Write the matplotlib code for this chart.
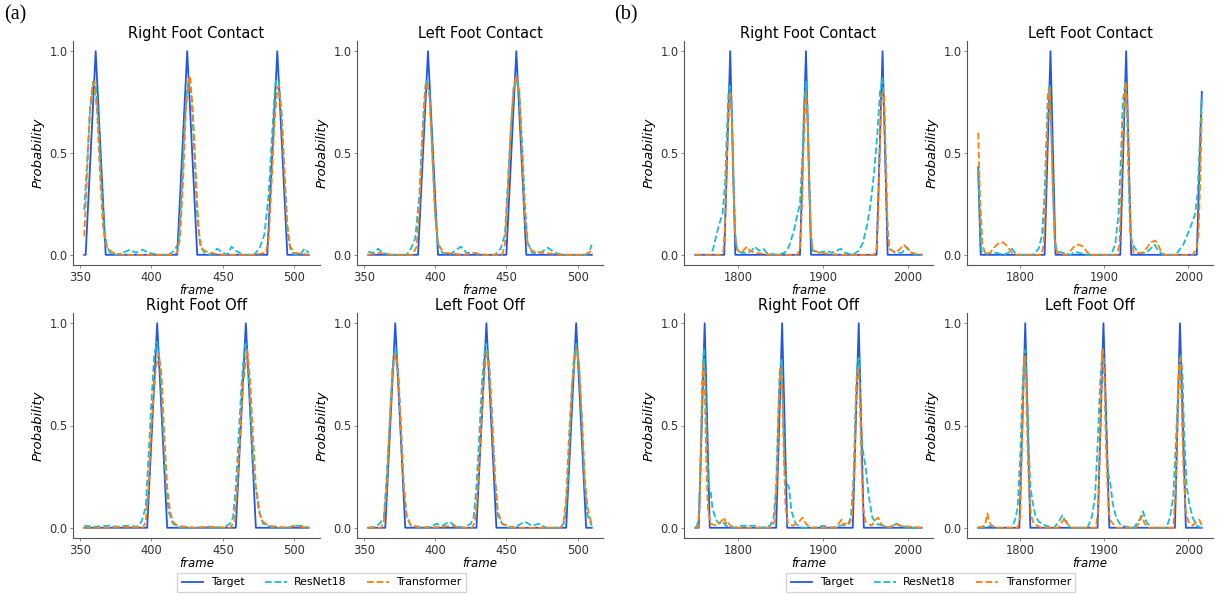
import matplotlib
matplotlib.use("Agg")
import matplotlib.pyplot as plt

# ---- data: (frame, probability) points for each detector and event ----
SERIES_NAMES = ["Target", "ResNet18", "Transformer"]
EVENT_TITLES = ["Right Foot Contact", "Left Foot Contact", "Right Foot Off", "Left Foot Off"]

# sequence (a), frames 353-510
A_RFC_TARGET = [(353, 0), (354, 0), (361, 1), (368, 0), (418, 0), (425, 1), (432, 0),
                (481, 0), (488, 1), (495, 0), (510, 0)]
A_RFC_RESNET = [(353, 0.22), (355, 0.45), (357, 0.7), (359, 0.83), (360, 0.85), (361, 0.84),
                (363, 0.65), (365, 0.35), (367, 0.12), (369, 0.04), (371, 0.01), (375, 0.0),
                (380, 0.01), (385, 0.025), (389, 0.01), (394, 0.025), (398, 0.01), (405, 0.0),
                (412, 0.0), (416, 0.02), (419, 0.06), (421, 0.3), (423, 0.62), (425, 0.82),
                (426, 0.85), (428, 0.78), (430, 0.5), (432, 0.2), (434, 0.05), (437, 0.01),
                (441, 0.0), (446, 0.03), (450, 0.01), (453, 0.0), (456, 0.04), (459, 0.02),
                (464, 0.0), (472, 0.0), (476, 0.04), (479, 0.1), (482, 0.3), (484, 0.55),
                (486, 0.78), (487, 0.86), (489, 0.85), (491, 0.7), (493, 0.4), (495, 0.12),
                (497, 0.03), (500, 0.0), (504, 0.0), (507, 0.03), (510, 0.01)]
A_RFC_TRANSFORMER = [(353, 0.09), (355, 0.4), (357, 0.72), (359, 0.85), (360, 0.84), (362, 0.7),
                     (364, 0.4), (366, 0.15), (368, 0.05), (370, 0.03), (373, 0.01), (380, 0.0),
                     (415, 0.0), (418, 0.01), (420, 0.08), (422, 0.35), (424, 0.7), (426, 0.86),
                     (427, 0.88), (429, 0.7), (431, 0.4), (433, 0.12), (435, 0.03), (440, 0.01),
                     (450, 0.0), (470, 0.0), (480, 0.01), (482, 0.08), (484, 0.35), (486, 0.65),
                     (488, 0.82), (489, 0.83), (491, 0.68), (493, 0.4), (495, 0.15), (497, 0.04),
                     (500, 0.01), (510, 0.0)]

A_LFC_TARGET = [(353, 0), (388, 0), (395, 1), (402, 0), (450, 0), (457, 1), (464, 0), (510, 0)]
A_LFC_RESNET = [(353, 0.015), (357, 0.01), (360, 0.03), (363, 0.01), (368, 0.0), (380, 0.0),
                (383, 0.03), (386, 0.08), (389, 0.3), (391, 0.6), (393, 0.82), (394, 0.86),
                (396, 0.8), (398, 0.5), (400, 0.2), (402, 0.05), (405, 0.01), (410, 0.0),
                (414, 0.02), (418, 0.04), (422, 0.01), (427, 0.01), (432, 0.0), (442, 0.0),
                (446, 0.03), (449, 0.1), (451, 0.35), (453, 0.6), (455, 0.8), (457, 0.86),
                (459, 0.82), (461, 0.55), (463, 0.25), (465, 0.06), (468, 0.01), (474, 0.01),
                (479, 0.035), (484, 0.01), (490, 0.0), (506, 0.0), (508, 0.01), (510, 0.05)]
A_LFC_TRANSFORMER = [(353, 0.0), (360, 0.01), (370, 0.0), (384, 0.0), (387, 0.04), (389, 0.25),
                     (391, 0.55), (393, 0.8), (394, 0.85), (396, 0.78), (398, 0.5), (400, 0.2),
                     (402, 0.06), (404, 0.03), (407, 0.01), (420, 0.0), (427, 0.01), (435, 0.0),
                     (447, 0.0), (449, 0.05), (451, 0.3), (453, 0.6), (455, 0.82), (457, 0.88),
                     (459, 0.8), (461, 0.5), (463, 0.18), (465, 0.05), (468, 0.02), (475, 0.01),
                     (490, 0.0), (505, 0.0), (510, 0.02)]

A_RFO_TARGET = [(353, 0), (397, 0), (404, 1), (411, 0), (459, 0), (466, 1), (473, 0), (510, 0)]
A_RFO_RESNET = [(353, 0.01), (360, 0.005), (370, 0.01), (376, 0.005), (383, 0.01), (390, 0.005),
                (393, 0.03), (396, 0.1), (398, 0.35), (400, 0.62), (402, 0.85), (404, 0.91),
                (406, 0.8), (408, 0.5), (410, 0.22), (412, 0.08), (415, 0.02), (420, 0.0),
                (430, 0.0), (440, 0.005), (450, 0.0), (455, 0.02), (457, 0.05), (459, 0.2),
                (461, 0.45), (463, 0.7), (465, 0.88), (466, 0.9), (468, 0.75), (470, 0.45),
                (472, 0.22), (474, 0.16), (476, 0.06), (478, 0.02), (485, 0.0), (495, 0.0),
                (500, 0.01), (505, 0.01), (510, 0.0)]
A_RFO_TRANSFORMER = [(353, 0.0), (370, 0.0), (380, 0.005), (394, 0.0), (396, 0.03), (398, 0.2),
                     (400, 0.5), (403, 0.78), (405, 0.85), (407, 0.75), (409, 0.45), (411, 0.2),
                     (413, 0.08), (415, 0.03), (418, 0.01), (430, 0.0), (440, 0.005), (455, 0.0),
                     (458, 0.03), (460, 0.2), (462, 0.45), (464, 0.7), (467, 0.87), (469, 0.72),
                     (471, 0.45), (473, 0.2), (475, 0.08), (478, 0.03), (482, 0.01), (495, 0.0),
                     (500, 0.01), (510, 0.0)]

A_LFO_TARGET = [(353, 0), (365, 0), (372, 1), (379, 0), (429, 0), (436, 1), (443, 0),
                (492, 0), (499, 1), (506, 0), (510, 0)]
A_LFO_RESNET = [(353, 0.0), (358, 0.005), (361, 0.02), (364, 0.05), (366, 0.25), (368, 0.5),
                (370, 0.78), (372, 0.88), (374, 0.78), (376, 0.5), (378, 0.2), (380, 0.05),
                (383, 0.01), (390, 0.0), (397, 0.005), (401, 0.02), (405, 0.01), (410, 0.03),
                (414, 0.01), (420, 0.0), (425, 0.02), (427, 0.05), (429, 0.2), (431, 0.45),
                (433, 0.72), (435, 0.88), (436, 0.9), (438, 0.8), (440, 0.55), (442, 0.25),
                (444, 0.06), (447, 0.02), (452, 0.0), (458, 0.01), (463, 0.03), (468, 0.01),
                (473, 0.02), (478, 0.0), (488, 0.0), (491, 0.03), (493, 0.2), (495, 0.5),
                (497, 0.8), (499, 0.9), (501, 0.8), (503, 0.5), (505, 0.2), (507, 0.06),
                (510, 0.01)]
A_LFO_TRANSFORMER = [(353, 0.0), (362, 0.0), (364, 0.03), (366, 0.2), (368, 0.5), (370, 0.75),
                     (372, 0.85), (374, 0.75), (376, 0.48), (378, 0.2), (380, 0.06), (383, 0.01),
                     (395, 0.0), (405, 0.005), (412, 0.01), (418, 0.0), (426, 0.0), (428, 0.03),
                     (430, 0.2), (432, 0.45), (434, 0.7), (436, 0.87), (438, 0.78), (440, 0.5),
                     (442, 0.25), (444, 0.08), (447, 0.02), (455, 0.0), (488, 0.0), (490, 0.02),
                     (492, 0.15), (494, 0.45), (496, 0.7), (499, 0.88), (501, 0.8), (503, 0.55),
                     (505, 0.25), (507, 0.1), (509, 0.04), (510, 0.02)]

# sequence (b), frames 1750-2016
B_RFC_TARGET = [(1750, 0), (1784, 0), (1791, 1), (1797, 0), (1873, 0), (1880, 1), (1886, 0),
                (1963, 0), (1970, 1), (1976, 0), (2016, 0)]
B_RFC_RESNET = [(1750, 0), (1768, 0), (1771, 0.03), (1775, 0.1), (1778, 0.15), (1782, 0.2),
                (1785, 0.35), (1787, 0.6), (1789, 0.8), (1791, 0.83), (1793, 0.7), (1795, 0.35),
                (1797, 0.1), (1799, 0.02), (1805, 0.01), (1812, 0.01), (1816, 0.02), (1820, 0.04),
                (1825, 0.02), (1830, 0.03), (1834, 0.01), (1845, 0.0), (1855, 0.01), (1860, 0.04),
                (1866, 0.12), (1870, 0.2), (1873, 0.25), (1876, 0.5), (1878, 0.75), (1880, 0.85),
                (1882, 0.7), (1884, 0.35), (1886, 0.1), (1888, 0.02), (1895, 0.01), (1905, 0.02),
                (1910, 0.01), (1916, 0.02), (1921, 0.03), (1926, 0.01), (1935, 0.0), (1942, 0.02),
                (1947, 0.06), (1952, 0.15), (1956, 0.25), (1960, 0.4), (1964, 0.6), (1967, 0.8),
                (1970, 0.87), (1972, 0.7), (1974, 0.4), (1976, 0.12), (1978, 0.03), (1985, 0.01),
                (1993, 0.01), (1998, 0.04), (2002, 0.02), (2008, 0.0), (2016, 0.0)]
B_RFC_TRANSFORMER = [(1750, 0), (1780, 0), (1783, 0.02), (1785, 0.15), (1787, 0.45), (1789, 0.7),
                     (1791, 0.8), (1793, 0.65), (1795, 0.3), (1797, 0.08), (1800, 0.02),
                     (1805, 0.01), (1808, 0.03), (1811, 0.04), (1814, 0.02), (1820, 0.01),
                     (1840, 0.0), (1870, 0.0), (1873, 0.04), (1875, 0.2), (1877, 0.5),
                     (1879, 0.72), (1880, 0.8), (1882, 0.65), (1884, 0.3), (1886, 0.08),
                     (1888, 0.02), (1891, 0.02), (1895, 0.01), (1920, 0.0), (1960, 0.0),
                     (1963, 0.03), (1965, 0.2), (1967, 0.55), (1969, 0.78), (1971, 0.8),
                     (1972, 0.78), (1974, 0.45), (1976, 0.12), (1978, 0.03), (1985, 0.01),
                     (1991, 0.03), (1995, 0.05), (1999, 0.03), (2004, 0.01), (2016, 0.0)]

B_LFC_TARGET = [(1750, 0.43), (1753, 0), (1829, 0), (1836, 1), (1842, 0), (1919, 0), (1926, 1),
                (1932, 0), (2010, 0), (2016, 0.8)]
B_LFC_RESNET = [(1750, 0.42), (1752, 0.15), (1754, 0.02), (1758, 0.005), (1765, 0.01), (1772, 0.01),
                (1780, 0.0), (1786, 0.01), (1790, 0.03), (1794, 0.01), (1800, 0.0), (1815, 0.0),
                (1822, 0.03), (1826, 0.1), (1829, 0.3), (1831, 0.55), (1833, 0.8), (1835, 0.83),
                (1837, 0.6), (1839, 0.3), (1841, 0.08), (1843, 0.02), (1850, 0.01), (1860, 0.0),
                (1865, 0.015), (1870, 0.01), (1880, 0.0), (1908, 0.0), (1913, 0.05), (1917, 0.2),
                (1920, 0.5), (1922, 0.75), (1925, 0.85), (1927, 0.7), (1929, 0.35), (1931, 0.1),
                (1934, 0.05), (1940, 0.01), (1950, 0.01), (1955, 0.03), (1960, 0.05), (1964, 0.02),
                (1970, 0.0), (1985, 0.0), (1994, 0.05), (2002, 0.13), (2008, 0.2), (2011, 0.3),
                (2014, 0.6), (2016, 0.78)]
B_LFC_TRANSFORMER = [(1750, 0.6), (1752, 0.3), (1755, 0.05), (1759, 0.0), (1764, 0.01),
                     (1770, 0.04), (1775, 0.06), (1780, 0.06), (1785, 0.04), (1790, 0.01),
                     (1795, 0.0), (1825, 0.0), (1828, 0.05), (1830, 0.3), (1832, 0.6),
                     (1834, 0.8), (1835, 0.82), (1837, 0.6), (1839, 0.3), (1841, 0.08),
                     (1844, 0.01), (1855, 0.0), (1860, 0.02), (1865, 0.045), (1870, 0.05),
                     (1875, 0.04), (1880, 0.01), (1885, 0.0), (1915, 0.0), (1918, 0.05),
                     (1920, 0.3), (1922, 0.6), (1925, 0.82), (1926, 0.85), (1928, 0.65),
                     (1930, 0.3), (1932, 0.08), (1935, 0.01), (1945, 0.01), (1950, 0.03),
                     (1955, 0.06), (1960, 0.07), (1963, 0.06), (1967, 0.02), (1972, 0.0),
                     (2005, 0.0), (2010, 0.03), (2012, 0.1), (2014, 0.35), (2016, 0.7)]

B_RFO_TARGET = [(1750, 0), (1754, 0), (1761, 1), (1767, 0), (1845, 0), (1852, 1), (1858, 0),
                (1935, 0), (1942, 1), (1948, 0), (2016, 0)]
B_RFO_RESNET = [(1750, 0), (1752, 0.01), (1754, 0.05), (1756, 0.3), (1758, 0.7), (1760, 0.88),
                (1762, 0.7), (1764, 0.35), (1766, 0.2), (1768, 0.18), (1770, 0.1), (1774, 0.04),
                (1778, 0.02), (1782, 0.03), (1786, 0.01), (1795, 0.0), (1805, 0.01), (1812, 0.01),
                (1820, 0.01), (1828, 0.0), (1838, 0.01), (1842, 0.05), (1845, 0.2), (1847, 0.5),
                (1849, 0.75), (1851, 0.83), (1853, 0.6), (1855, 0.3), (1857, 0.22), (1860, 0.2),
                (1863, 0.08), (1868, 0.02), (1875, 0.0), (1890, 0.0), (1900, 0.01), (1910, 0.0),
                (1920, 0.01), (1930, 0.02), (1933, 0.06), (1936, 0.25), (1938, 0.55), (1940, 0.78),
                (1942, 0.83), (1944, 0.6), (1946, 0.4), (1950, 0.3), (1954, 0.15), (1958, 0.05),
                (1963, 0.02), (1970, 0.01), (1980, 0.0), (1986, 0.02), (1992, 0.01), (2000, 0.0),
                (2016, 0.0)]
B_RFO_TRANSFORMER = [(1750, 0), (1753, 0.0), (1755, 0.1), (1757, 0.45), (1759, 0.8), (1761, 0.7),
                     (1763, 0.3), (1765, 0.08), (1768, 0.02), (1775, 0.01), (1780, 0.03),
                     (1784, 0.05), (1786, 0.02), (1788, 0.03), (1791, 0.01), (1800, 0.0),
                     (1838, 0.0), (1843, 0.03), (1846, 0.25), (1848, 0.6), (1850, 0.78),
                     (1852, 0.7), (1854, 0.35), (1856, 0.1), (1859, 0.02), (1865, 0.01),
                     (1872, 0.03), (1876, 0.05), (1880, 0.02), (1885, 0.0), (1915, 0.0),
                     (1920, 0.03), (1922, 0.04), (1925, 0.01), (1928, 0.03), (1931, 0.02),
                     (1934, 0.05), (1937, 0.3), (1939, 0.65), (1941, 0.78), (1943, 0.7),
                     (1945, 0.35), (1947, 0.1), (1950, 0.03), (1957, 0.01), (1962, 0.04),
                     (1965, 0.05), (1968, 0.02), (1975, 0.0), (1982, 0.01), (1986, 0.02),
                     (1990, 0.01), (2016, 0.0)]

B_LFO_TARGET = [(1750, 0), (1799, 0), (1806, 1), (1812, 0), (1892, 0), (1899, 1), (1906, 0),
                (1984, 0), (1990, 1), (1997, 0), (2016, 0)]
B_LFO_RESNET = [(1750, 0), (1760, 0.005), (1767, 0.01), (1772, 0.0), (1790, 0.0), (1794, 0.04),
                (1797, 0.1), (1800, 0.35), (1802, 0.6), (1804, 0.8), (1806, 0.87), (1808, 0.7),
                (1810, 0.4), (1812, 0.2), (1815, 0.12), (1818, 0.06), (1822, 0.03), (1830, 0.01),
                (1840, 0.0), (1846, 0.03), (1850, 0.06), (1854, 0.03), (1860, 0.0), (1880, 0.0),
                (1885, 0.05), (1889, 0.15), (1892, 0.4), (1895, 0.7), (1898, 0.88), (1900, 0.8),
                (1902, 0.5), (1904, 0.28), (1907, 0.22), (1910, 0.12), (1914, 0.05), (1920, 0.01),
                (1935, 0.0), (1942, 0.04), (1946, 0.08), (1950, 0.03), (1955, 0.0), (1974, 0.0),
                (1978, 0.05), (1982, 0.15), (1985, 0.4), (1988, 0.7), (1991, 0.85), (1993, 0.75),
                (1995, 0.45), (1998, 0.2), (2001, 0.12), (2005, 0.05), (2010, 0.01), (2016, 0.0)]
B_LFO_TRANSFORMER = [(1750, 0), (1758, 0.01), (1761, 0.07), (1763, 0.03), (1766, 0.01),
                     (1770, 0.0), (1797, 0.0), (1800, 0.05), (1802, 0.4), (1804, 0.75),
                     (1805, 0.84), (1807, 0.7), (1809, 0.35), (1811, 0.15), (1813, 0.06),
                     (1816, 0.02), (1825, 0.0), (1845, 0.0), (1850, 0.03), (1853, 0.05),
                     (1856, 0.02), (1860, 0.0), (1890, 0.0), (1893, 0.1), (1895, 0.45),
                     (1897, 0.8), (1898, 0.87), (1900, 0.75), (1902, 0.4), (1905, 0.08),
                     (1908, 0.03), (1915, 0.0), (1938, 0.0), (1942, 0.03), (1945, 0.06),
                     (1948, 0.02), (1953, 0.0), (1982, 0.0), (1985, 0.2), (1987, 0.55),
                     (1989, 0.8), (1990, 0.83), (1992, 0.6), (1994, 0.3), (1997, 0.08),
                     (2000, 0.03), (2005, 0.01), (2010, 0.03), (2013, 0.04), (2016, 0.01)]

GROUP_A = [(A_RFC_TARGET, A_RFC_RESNET, A_RFC_TRANSFORMER),
           (A_LFC_TARGET, A_LFC_RESNET, A_LFC_TRANSFORMER),
           (A_RFO_TARGET, A_RFO_RESNET, A_RFO_TRANSFORMER),
           (A_LFO_TARGET, A_LFO_RESNET, A_LFO_TRANSFORMER)]
GROUP_B = [(B_RFC_TARGET, B_RFC_RESNET, B_RFC_TRANSFORMER),
           (B_LFC_TARGET, B_LFC_RESNET, B_LFC_TRANSFORMER),
           (B_RFO_TARGET, B_RFO_RESNET, B_RFO_TRANSFORMER),
           (B_LFO_TARGET, B_LFO_RESNET, B_LFO_TRANSFORMER)]

COLORS = ["#2456e6", "#17becf", "#ff7f0e"]
STYLES = ["-", "--", "--"]

W, H = 1223, 597


def px_axes(fig, left, top, right, bottom):
    """Add axes given pixel edges (origin at top-left)."""
    return fig.add_axes([left / W, 1 - bottom / H, (right - left) / W, (bottom - top) / H])


def draw_panel(ax, series, title):
    for pts, name, color, ls in zip(series, SERIES_NAMES, COLORS, STYLES):
        xs = [p[0] for p in pts]
        ys = [p[1] for p in pts]
        ax.plot(xs, ys, color=color, linestyle=ls, linewidth=1.3, label=name)
    ax.set_title(title, fontsize=10.5, pad=2)
    ax.set_ylabel("Probability", fontsize=9.5, style="italic", labelpad=3)
    ax.set_xlabel("frame", fontsize=8.5, style="italic", labelpad=0)
    ax.set_yticks([0.0, 0.5, 1.0])
    ax.spines["top"].set_visible(False)
    ax.spines["right"].set_visible(False)
    for side in ("left", "bottom"):
        ax.spines[side].set_color("#555555")
    ax.tick_params(length=2.5, width=0.6, color="#777777", labelsize=8.3,
                   labelcolor="#333333", pad=1.5)


fig = plt.figure(figsize=(W / 100, H / 100), dpi=100)

col_edges = [(73, 320), (357, 603), (684, 933), (967, 1213)]
row_edges = [(41, 265), (313, 538)]

for g, (group, xticks) in enumerate([(GROUP_A, [350, 400, 450, 500]),
                                     (GROUP_B, [1800, 1900, 2000])]):
    for k, series in enumerate(group):
        r, c = divmod(k, 2)
        left, right = col_edges[2 * g + c]
        top, bottom = row_edges[r]
        ax = px_axes(fig, left, top, right, bottom)
        draw_panel(ax, series, EVENT_TITLES[k])
        ax.set_xticks(xticks)
    handles, labels = ax.get_legend_handles_labels()
    fig.legend(handles, labels, loc="upper center", bbox_to_anchor=(0.263 + 0.498 * g, 1 - 573 / H),
               ncol=3, fontsize=7.8, frameon=True, edgecolor="#cccccc", fancybox=False,
               handlelength=2.0, handletextpad=0.7, columnspacing=1.9, borderpad=0.4,
               borderaxespad=0)

fig.text(4 / W, 1 - 5 / H, "(a)", family="Liberation Serif", fontsize=14.5, va="top")
fig.text(614 / W, 1 - 5 / H, "(b)", family="Liberation Serif", fontsize=14.5, va="top")

fig.savefig("out.png", dpi=100)
